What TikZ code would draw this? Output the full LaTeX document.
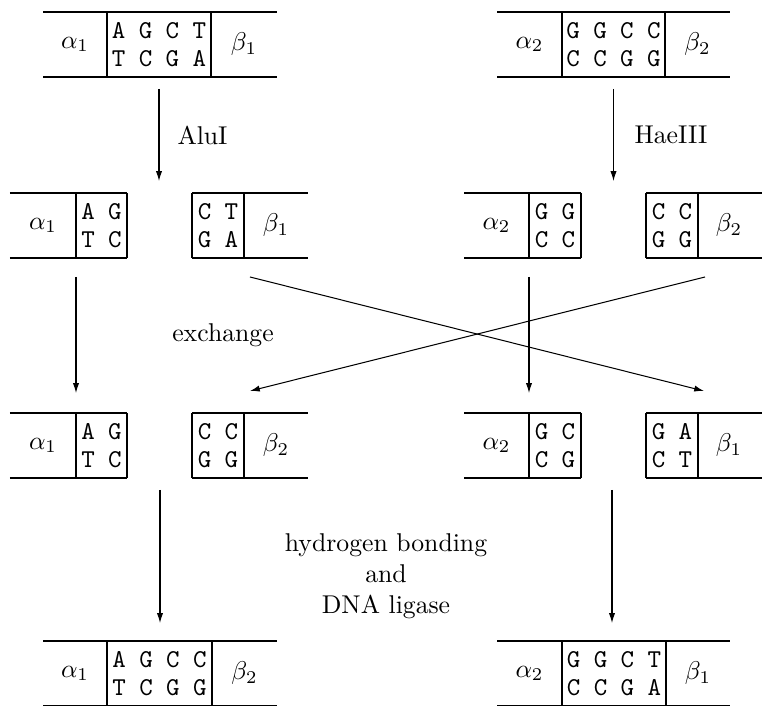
\documentclass[tikz,border=0pt]{standalone}
\usetikzlibrary{arrows.meta}
\begin{document}
\begin{tikzpicture}[x=0.389pt,y=-0.389pt,
  seq/.style={inner sep=0pt,font=\ttfamily},
  lab/.style={inner sep=0pt},
  arr/.style={-{Latex[length=3.8pt,width=2.4pt]}}]
\useasboundingbox (0,0) rectangle (762,706);
% ---------- row 1 ----------
\draw (43,12) -- (277,12) (43,77) -- (277,77) (107,12) -- (107,77) (211,12) -- (211,77);
\node[lab] (a1) at (75,44.5) {$\alpha_1$};
\node[seq] (s1t) at (159,30.5) {A G C T};
\node[seq] (s1b) at (159,58.5) {T C G A};
\node[lab] (b1) at (244,44.5) {$\beta_1$};
\draw (497,12) -- (730,12) (497,77) -- (730,77) (562,12) -- (562,77) (665,12) -- (665,77);
\node[lab] (a2) at (529.5,44.5) {$\alpha_2$};
\node[seq] (s2t) at (613.5,30.5) {G G C C};
\node[seq] (s2b) at (613.5,58.5) {C C G G};
\node[lab] (b2) at (697.5,44.5) {$\beta_2$};
% ---------- row 2 ----------
\draw (10,193) -- (127,193) (10,258) -- (127,258) (76,193) -- (76,258) (127,193) -- (127,258);
\node[lab] (r2a1) at (43,225.5) {$\alpha_1$};
\node[seq] (r2s1t) at (101.5,211.5) {A G};
\node[seq] (r2s1b) at (101.5,239.5) {T C};
\draw (192,193) -- (308,193) (192,258) -- (308,258) (192,193) -- (192,258) (244,193) -- (244,258);
\node[seq] (r2s2t) at (218,211.5) {C T};
\node[seq] (r2s2b) at (218,239.5) {G A};
\node[lab] (r2b1) at (276,225.5) {$\beta_1$};
\draw (464,193) -- (581,193) (464,258) -- (581,258) (529,193) -- (529,258) (581,193) -- (581,258);
\node[lab] (r2a2) at (496.5,225.5) {$\alpha_2$};
\node[seq] (r2s3t) at (555,211.5) {G G};
\node[seq] (r2s3b) at (555,239.5) {C C};
\draw (646,193) -- (762,193) (646,258) -- (762,258) (646,193) -- (646,258) (698,193) -- (698,258);
\node[seq] (r2s4t) at (672,211.5) {C C};
\node[seq] (r2s4b) at (672,239.5) {G G};
\node[lab] (r2b2) at (729,225.5) {$\beta_2$};
% ---------- row 3 ----------
\draw (10,413) -- (127,413) (10,478) -- (127,478) (76,413) -- (76,478) (127,413) -- (127,478);
\node[lab] (r3a1) at (43,445.5) {$\alpha_1$};
\node[seq] (r3s1t) at (101.5,431.5) {A G};
\node[seq] (r3s1b) at (101.5,459.5) {T C};
\draw (192,413) -- (308,413) (192,478) -- (308,478) (192,413) -- (192,478) (244,413) -- (244,478);
\node[seq] (r3s2t) at (218,431.5) {C C};
\node[seq] (r3s2b) at (218,459.5) {G G};
\node[lab] (r3b2) at (276,445.5) {$\beta_2$};
\draw (464,413) -- (581,413) (464,478) -- (581,478) (529,413) -- (529,478) (581,413) -- (581,478);
\node[lab] (r3a2) at (496.5,445.5) {$\alpha_2$};
\node[seq] (r3s3t) at (555,431.5) {G C};
\node[seq] (r3s3b) at (555,459.5) {C G};
\draw (646,413) -- (762,413) (646,478) -- (762,478) (646,413) -- (646,478) (698,413) -- (698,478);
\node[seq] (r3s4t) at (672,431.5) {G A};
\node[seq] (r3s4b) at (672,459.5) {C T};
\node[lab] (r3b1) at (729,445.5) {$\beta_1$};
% ---------- row 4 ----------
\draw (43,641) -- (277,641) (43,705.5) -- (277,705.5) (107,641) -- (107,705.5) (212,641) -- (212,705.5);
\node[lab] (r4a1) at (75,673.5) {$\alpha_1$};
\node[seq] (r4s1t) at (159.5,659.5) {A G C C};
\node[seq] (r4s1b) at (159.5,687.5) {T C G G};
\node[lab] (r4b2) at (244.5,673.5) {$\beta_2$};
\draw (497,641) -- (730,641) (497,705.5) -- (730,705.5) (562,641) -- (562,705.5) (666,641) -- (666,705.5);
\node[lab] (r4a2) at (529.5,673.5) {$\alpha_2$};
\node[seq] (r4s2t) at (614,659.5) {G G C T};
\node[seq] (r4s2b) at (614,687.5) {C C G A};
\node[lab] (r4b1) at (698,673.5) {$\beta_1$};
% ---------- arrows ----------
\coordinate (p1) at (159,89);   \coordinate (q1) at (159,181);
\coordinate (p2) at (613.5,89); \coordinate (q2) at (613.5,181);
\draw[arr] (p1) -- (q1) node[lab,midway,right=7pt] (alu) {AluI};
\draw[arr] (p2) -- (q2) node[lab,midway,right=8pt] (hae) {HaeIII};
\coordinate (p3) at (76,277);  \coordinate (q3) at (76,393);
\coordinate (p4) at (529,277); \coordinate (q4) at (529,393);
\coordinate (p5) at (250,277); \coordinate (q5) at (704,391);
\coordinate (p6) at (705,277); \coordinate (q6) at (250,391);
\draw[arr] (p3) -- (q3);
\draw[arr] (p4) -- (q4);
\draw[arr] (p5) -- (q5);
\draw[arr] (p6) -- (q6);
\node[lab] (ex) at (223,335) {exchange};
\coordinate (p7) at (160,490); \coordinate (q7) at (160,623);
\coordinate (p8) at (612,490); \coordinate (q8) at (612,623);
\draw[arr] (p7) -- (q7);
\draw[arr] (p8) -- (q8);
\node[lab,align=center] (hb) at (386,576) {hydrogen bonding\\and\\DNA ligase};
\end{tikzpicture}
\end{document}
